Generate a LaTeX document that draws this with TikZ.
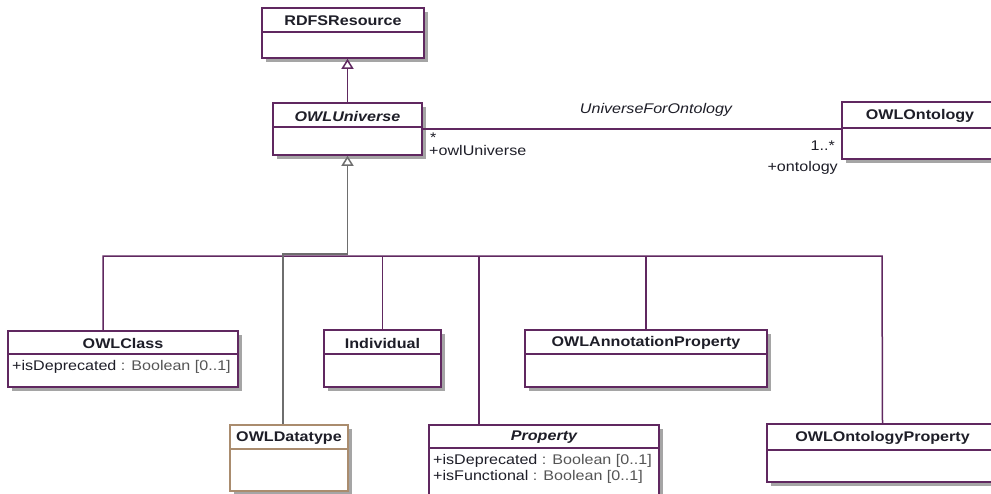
\documentclass[tikz,border=0pt]{standalone}
\usepackage{fontspec}
\setmainfont{Liberation Sans}[FakeStretch=1.15]
\usetikzlibrary{arrows.meta,fit}
\definecolor{umlpurple}{RGB}{96,40,96}
\definecolor{umlbrown}{RGB}{170,140,110}
\definecolor{umlgray}{RGB}{110,110,110}
\definecolor{umlshadow}{RGB}{165,165,165}
\definecolor{txtdark}{RGB}{30,30,40}
\definecolor{txtgray}{RGB}{85,85,85}
\tikzset{
  title/.style={font=\fontsize{14}{16}\selectfont\bfseries, text=txtdark, inner sep=0pt},
  ititle/.style={font=\fontsize{14}{16}\selectfont\bfseries\itshape, text=txtdark, inner sep=0pt},
  attr/.style={font=\fontsize{14}{16}\selectfont, text=txtgray, anchor=west, inner sep=0pt},
  lbl/.style={font=\fontsize{14}{16}\selectfont, text=txtdark, inner sep=0pt},
  conn/.style={umlpurple, line width=1.5pt},
  gconn/.style={umlgray, line width=1.5pt},
  gen/.style={-{Triangle[open, width=12pt, length=10pt, fill=white]}},
}
% #1 name, #2 x1, #3 y1, #4 x2, #5 y2, #6 ydiv, #7 colour, #8 title style, #9 title
\newcommand{\umlbox}[9]{%
  \fill[umlshadow] (#2+3.5,#3+3.5) rectangle (#4+3.5,#5+3.5);
  \node[fit={(#2,#3)(#4,#5)}, inner sep=0pt, draw=#7, fill=white, line width=1.6pt] (#1) {};
  \draw[#7, line width=1.3pt] (#2,#6) -- (#4,#6);
  \node[#8] (#1-t) at ({(#2+#4)/2},{(#3+#6)/2+1}) {#9};
}
\begin{document}
\begin{tikzpicture}[x=1pt,y=-1pt]
\clip (0,0) rectangle (991,493);
\fill[white] (0,0) rectangle (991,493);

% classes
\umlbox{rdfs}{262}{8}{424}{58}{32}{umlpurple}{title}{RDFSResource}
\umlbox{owlu}{273}{103}{422}{155}{127}{umlpurple}{ititle}{OWLUniverse}
\umlbox{ont}{842}{102}{998}{159}{128}{umlpurple}{title}{OWLOntology}
\umlbox{oc}{8}{331}{238}{387}{354}{umlpurple}{title}{OWLClass}
\umlbox{ind}{324}{330}{441}{387}{354}{umlpurple}{title}{Individual}
\umlbox{ann}{525}{330}{767}{387}{354}{umlpurple}{title}{OWLAnnotationProperty}
\umlbox{dt}{230}{425}{348}{491}{449}{umlbrown}{title}{OWLDatatype}
\umlbox{prop}{429}{425}{659}{505}{448}{umlpurple}{ititle}{Property}
\umlbox{ontp}{767}{424}{998}{482}{450}{umlpurple}{title}{OWLOntologyProperty}

% attributes
\node[attr] (oc-a1) at (12,367) {{\color{txtdark}+isDeprecated} : Boolean [0..1]};
\node[attr] (prop-a1) at (433,461) {{\color{txtdark}+isDeprecated} : Boolean [0..1]};
\node[attr] (prop-a2) at (433,477) {{\color{txtdark}+isFunctional} : Boolean [0..1]};

% association
\draw[conn] (owlu.east) -- (owlu.east -| ont.west);
\node[lbl, font=\fontsize{14}{16}\selectfont\itshape] (assoc) at (656,110) {UniverseForOntology};
\node[lbl, anchor=west] (m1) at (430,138) {*};
\node[lbl, anchor=west] (r1) at (429,150) {+owlUniverse};
\node[lbl, anchor=east] (m2) at (835,146) {1..*};
\node[lbl, anchor=east] (r2) at (838,168) {+ontology};

% generalization RDFSResource <- OWLUniverse
\draw[conn, gen] (owlu.north) -- (owlu.north |- rdfs.south);

% bus
\coordinate (busL) at (103,256);
\coordinate (busR) at (882,256);
\coordinate (gbus) at (283,254);
\draw[conn] ([xshift=-20pt]oc.north) -- (busL) -- (busR) -- (ontp.north);
\draw[conn] (ind.north) -- (ind.north |- busL);
\draw[conn] ([xshift=-65pt]prop.north) -- ([xshift=-65pt]prop.north |- busL);
\draw[conn] (ann.north) -- (ann.north |- busL);

% OWLDatatype path with shared triangle
\draw[gconn, gen] ([xshift=-6pt]dt.north) -- (gbus) -- (gbus -| owlu.south) -- (owlu.south);
\end{tikzpicture}
\end{document}
